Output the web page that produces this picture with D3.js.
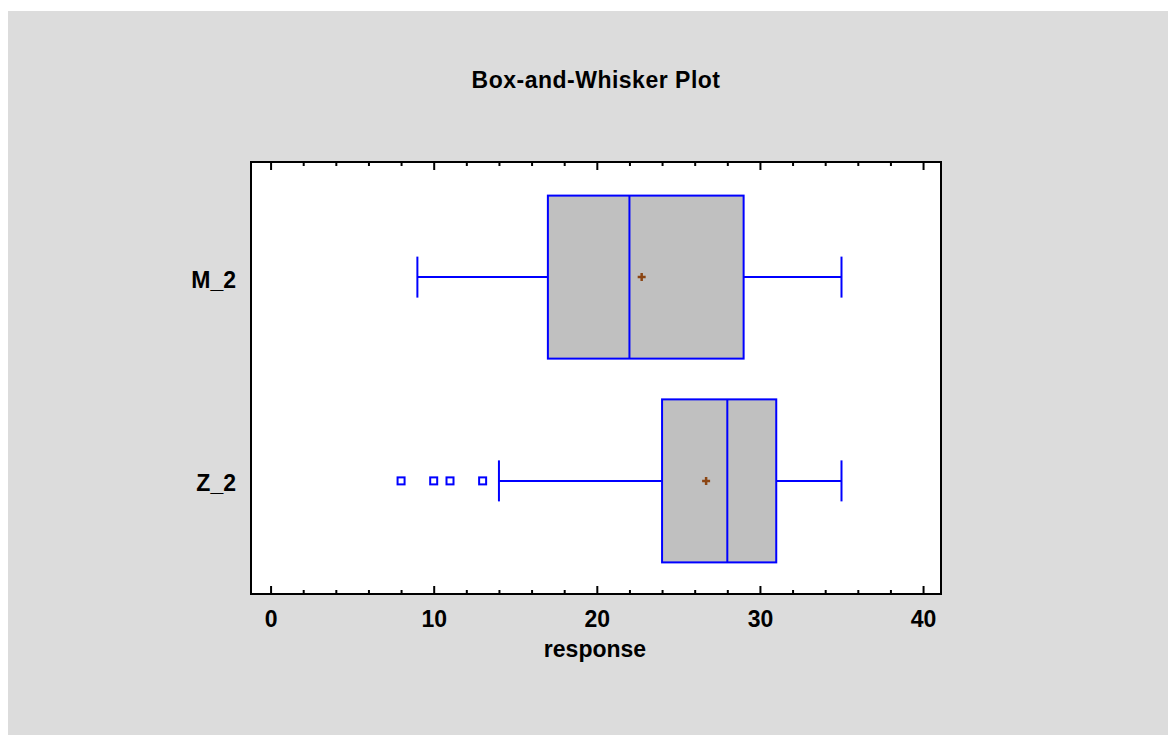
<!DOCTYPE html>
<html>
<head>
<meta charset="utf-8">
<script src="https://cdn.jsdelivr.net/npm/d3@7"></script>
<style>
  body { margin: 0; background: #fff; }
  svg { display: block; font-family: "Liberation Sans", Arial, sans-serif; }
</style>
</head>
<body>
<div id="container"></div>
<script>
/***** data *****/
const categories = ["M_2", "Z_2"];
const whiskLo = [9, 14];
const q1 = [17, 24];
const median = [22, 28];
const q3 = [29, 31];
const whiskHi = [35, 35];
const means = [22.75, 26.7];
const outliers = [[], [8, 10, 11, 13]];
const xTicks = [0, 10, 20, 30, 40];
const xMinor = [2, 4, 6, 8, 12, 14, 16, 18, 22, 24, 26, 28, 32, 34, 36, 38];

/***** layout *****/
const W = 1168, H = 735;
const frame = {left: 251, top: 162, right: 941, bottom: 594};
const blue = "#0000ff";

let svg = d3.select("#container")
  .append("svg")
    .attr("width", W)
    .attr("height", H);

// gray panel
svg.append("rect")
  .attr("x", 8).attr("y", 11)
  .attr("width", W - 8).attr("height", H - 11)
  .attr("fill", "#dcdcdc");

// plot area
svg.append("rect")
  .attr("x", frame.left).attr("y", frame.top)
  .attr("width", frame.right - frame.left)
  .attr("height", frame.bottom - frame.top)
  .attr("fill", "#fff");

// scales
let x = d3.scaleLinear()
  .domain([-1.2, 41.1])
  .range([frame.left, frame.right]);

let y = d3.scalePoint()
  .domain(categories)
  .range([frame.top + 1, frame.bottom + 1])
  .padding(0.56);

const step = y.step();
const boxH = step * 0.8;
const capH = 41;

// x axis bottom (ticks inward)
let xb = svg.append("g")
  .attr("transform", "translate(0," + frame.bottom + ")")
  .call(d3.axisBottom(x).tickValues(xTicks).tickSize(-8).tickPadding(17).tickFormat(d3.format("d")));
xb.select(".domain").remove();
xb.selectAll("line").attr("stroke", "#000").attr("stroke-width", 2);
xb.selectAll("text")
  .attr("fill", "#000")
  .style("font-size", "23px")
  .style("font-weight", "bold");

svg.append("g")
  .attr("transform", "translate(0," + frame.bottom + ")")
  .call(d3.axisBottom(x).tickValues(xMinor).tickSize(-4).tickFormat(""))
  .call(g => g.select(".domain").remove())
  .selectAll("line").attr("stroke", "#000").attr("stroke-width", 2);

// x axis top (ticks inward)
svg.append("g")
  .attr("transform", "translate(0," + frame.top + ")")
  .call(d3.axisTop(x).tickValues(xTicks).tickSize(-8).tickFormat(""))
  .call(g => g.select(".domain").remove())
  .selectAll("line").attr("stroke", "#000").attr("stroke-width", 2);

svg.append("g")
  .attr("transform", "translate(0," + frame.top + ")")
  .call(d3.axisTop(x).tickValues(xMinor).tickSize(-4).tickFormat(""))
  .call(g => g.select(".domain").remove())
  .selectAll("line").attr("stroke", "#000").attr("stroke-width", 2);

// y axis labels
let ya = svg.append("g")
  .attr("transform", "translate(" + frame.left + ",0)")
  .call(d3.axisLeft(y).tickSize(0).tickPadding(15));
ya.select(".domain").remove();
ya.selectAll("text")
  .attr("dy", "0.43em")
  .attr("fill", "#000")
  .style("font-size", "23px")
  .style("font-weight", "bold");

// boxes
let data = categories.map((c, i) => ({
  cat: c, lo: whiskLo[i], q1: q1[i], med: median[i], q3: q3[i],
  hi: whiskHi[i], mean: means[i], out: outliers[i]
}));

let g = svg.selectAll(".box")
  .data(data)
  .join("g")
    .attr("class", "box");

// whiskers
g.append("line")
  .attr("x1", d => x(d.lo)).attr("x2", d => x(d.q1))
  .attr("y1", d => y(d.cat)).attr("y2", d => y(d.cat))
  .attr("stroke", blue).attr("stroke-width", 2);
g.append("line")
  .attr("x1", d => x(d.q3)).attr("x2", d => x(d.hi))
  .attr("y1", d => y(d.cat)).attr("y2", d => y(d.cat))
  .attr("stroke", blue).attr("stroke-width", 2);
g.append("line")
  .attr("x1", d => x(d.lo)).attr("x2", d => x(d.lo))
  .attr("y1", d => y(d.cat) - capH / 2).attr("y2", d => y(d.cat) + capH / 2)
  .attr("stroke", blue).attr("stroke-width", 2);
g.append("line")
  .attr("x1", d => x(d.hi)).attr("x2", d => x(d.hi))
  .attr("y1", d => y(d.cat) - capH / 2).attr("y2", d => y(d.cat) + capH / 2)
  .attr("stroke", blue).attr("stroke-width", 2);

// box
g.append("rect")
  .attr("x", d => x(d.q1))
  .attr("y", d => y(d.cat) - boxH / 2)
  .attr("width", d => x(d.q3) - x(d.q1))
  .attr("height", boxH)
  .attr("fill", "#c0c0c0")
  .attr("stroke", blue).attr("stroke-width", 2);

// median
g.append("line")
  .attr("x1", d => x(d.med)).attr("x2", d => x(d.med))
  .attr("y1", d => y(d.cat) - boxH / 2).attr("y2", d => y(d.cat) + boxH / 2)
  .attr("stroke", blue).attr("stroke-width", 2);

// mean marker
g.append("path")
  .attr("d", d => {
    let cx = x(d.mean), cy = y(d.cat);
    return "M" + (cx - 4) + "," + cy + "H" + (cx + 4) + "M" + cx + "," + (cy - 4) + "V" + (cy + 4);
  })
  .attr("stroke", "#8b4513").attr("stroke-width", 2.5);

// outliers
g.selectAll(".out")
  .data(d => d.out.map(v => ({v: v, cat: d.cat})))
  .join("rect")
    .attr("class", "out")
    .attr("x", d => x(d.v) - 3.5)
    .attr("y", d => y(d.cat) - 3.5)
    .attr("width", 7).attr("height", 7)
    .attr("fill", "#fff")
    .attr("stroke", blue).attr("stroke-width", 2);

// frame
svg.append("rect")
  .attr("x", frame.left).attr("y", frame.top)
  .attr("width", frame.right - frame.left)
  .attr("height", frame.bottom - frame.top)
  .attr("fill", "none")
  .attr("stroke", "#000").attr("stroke-width", 2);

// titles
svg.append("text")
  .attr("x", 596).attr("y", 88)
  .attr("text-anchor", "middle")
  .style("font-size", "23px").style("font-weight", "bold")
  .style("letter-spacing", "0.5px")
  .text("Box-and-Whisker Plot");

svg.append("text")
  .attr("x", 595).attr("y", 657)
  .attr("text-anchor", "middle")
  .style("font-size", "23px").style("font-weight", "bold")
  .text("response");
</script>
</body>
</html>
